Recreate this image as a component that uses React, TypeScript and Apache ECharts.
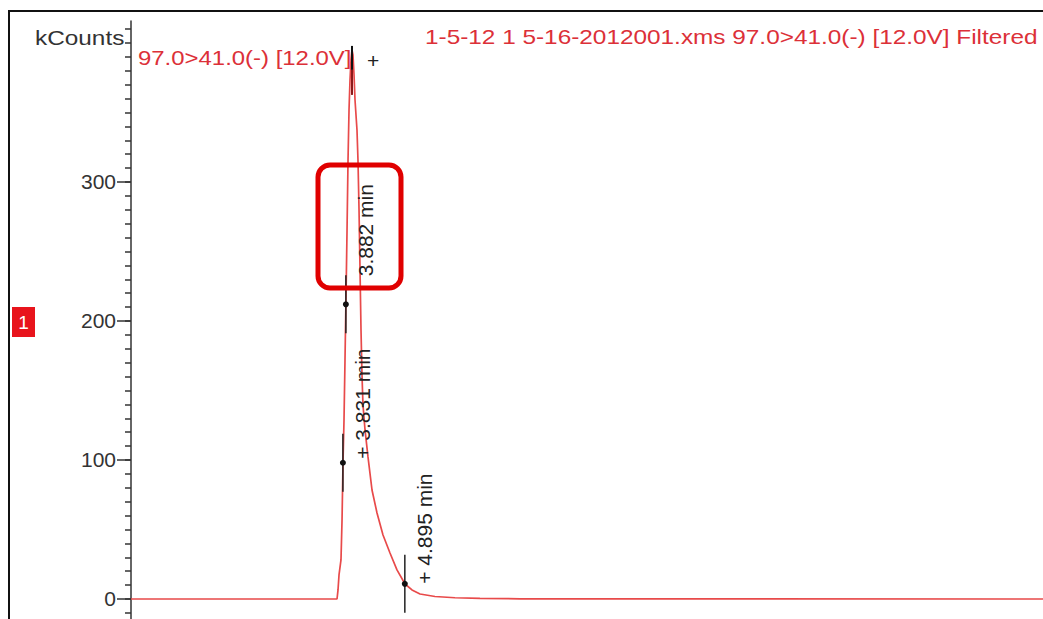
import React, { useEffect, useRef } from "react";
import * as echarts from "echarts";

// Chromatogram trace: retention time (min) vs intensity (kCounts)
const traceTimes = [
  0.19, 3.73, 3.747, 3.764, 3.798, 3.816, 3.833, 3.85, 3.867, 3.884, 3.902, 3.919, 3.936, 3.953, 3.97, 3.987,
  4.004, 4.022, 4.039, 4.073, 4.09, 4.108, 4.125, 4.142, 4.159, 4.176, 4.211, 4.262, 4.331, 4.417, 4.52, 4.64,
  4.76, 4.898, 5.018, 5.156, 5.413, 5.757, 6.186, 6.874, 8.248, 15.86,
];
const traceValues = [
  0, 0, 6.5, 17.3, 28.1, 56.8, 98.6, 128.8, 171.9, 216.5, 265.5, 315.8, 351.8, 373.4, 387.8, 395.0,
  391.4, 377.0, 359.0, 337.4, 315.8, 279.9, 236.7, 193.5, 161.2, 139.6, 121.6, 102.2, 78.4, 61.9, 46.0, 33.1,
  20.9, 10.8, 6.5, 3.6, 1.8, 0.9, 0.4, 0.15, 0.05, 0,
];

const markerTimes = [3.831, 3.882, 4.895];
const markerValues = [98, 212, 10.9];
const markerLabels = ["+ 3.831 min", "3.882 min", "+ 4.895 min"];

const apexTimes = [3.987];
const apexValues = [395];

const yMajorTicks = [0, 100, 200, 300];
const yMinorTicks = [-10, 0, 10, 20, 30, 40, 50, 60, 70, 80, 90, 100, 110, 120, 130, 140, 150, 160, 170, 180, 190, 200,
  210, 220, 230, 240, 250, 260, 270, 280, 290, 300, 310, 320, 330, 340, 350, 360, 370, 380, 390, 400, 410];

const yAxisName = "kCounts";
const traceName = "97.0>41.0(-) [12.0V]";
const titleText = "1-5-12 1 5-16-2012001.xms 97.0>41.0(-) [12.0V] Filtered";

// styling / layout
const FONT = '"Liberation Sans", Arial, sans-serif';
const RED_TEXT = "#dc3038";
const LINE_RED = "#e84a4a";
const labelShift = [-4, -28, 0];

export default function App() {
  const ref = useRef<HTMLDivElement>(null);
  useEffect(() => {
    document.body.style.margin = "0";
    const chart = echarts.init(ref.current!, null, { renderer: "svg" });
    const yMin = -14.39;
    const yMax = 415.8;
    chart.setOption({
      animation: false,
      backgroundColor: "#ffffff",
      grid: { left: 131, right: 0, top: 21, bottom: 0, containLabel: false },
      xAxis: { type: "value", min: 0.19, max: 15.86, show: false },
      yAxis: [
        {
          type: "value",
          min: yMin,
          max: yMax,
          position: "left",
          axisLine: { show: true, lineStyle: { color: "#333", width: 1.5 } },
          axisTick: { show: true, customValues: yMinorTicks, length: 6, lineStyle: { color: "#333", width: 1.5 } },
          axisLabel: { show: false },
          splitLine: { show: false },
        },
        {
          type: "value",
          min: yMin,
          max: yMax,
          position: "left",
          axisLine: { show: false },
          axisTick: { show: true, customValues: yMajorTicks, length: 14, lineStyle: { color: "#333", width: 1.5 } },
          axisLabel: { show: true, customValues: yMajorTicks, fontSize: 21, color: "#333", fontFamily: FONT, margin: 15 },
          splitLine: { show: false },
        },
      ],
      series: [
        {
          type: "line",
          data: traceTimes.map((t, i) => [t, traceValues[i]]),
          symbol: "none",
          lineStyle: { color: LINE_RED, width: 1.7 },
          z: 2,
        },
        {
          type: "custom",
          data: markerTimes.map((t, i) => [t, markerValues[i]]),
          z: 5,
          renderItem: (params: any, api: any) => {
            const p = api.coord([api.value(0), api.value(1)]);
            const i = params.dataIndex;
            return {
              type: "group",
              children: [
                { type: "line", shape: { x1: p[0], y1: p[1] - 29, x2: p[0], y2: p[1] + 29 }, style: { stroke: "#222", lineWidth: 1.5 } },
                { type: "circle", shape: { cx: p[0], cy: p[1], r: 3 }, style: { fill: "#111" } },
                {
                  type: "text",
                  x: p[0] + 20,
                  y: p[1] + labelShift[i],
                  rotation: Math.PI / 2,
                  style: { text: markerLabels[i], fill: "#222", font: `21px ${FONT}`, align: "left", verticalAlign: "middle" },
                },
              ],
            };
          },
        },
        {
          type: "custom",
          data: apexTimes.map((t, i) => [t, apexValues[i]]),
          z: 5,
          renderItem: (params: any, api: any) => {
            const p = api.coord([api.value(0), api.value(1)]);
            return {
              type: "group",
              children: [
                { type: "line", shape: { x1: p[0], y1: p[1] - 4, x2: p[0], y2: p[1] + 20 }, style: { stroke: "#111", lineWidth: 2 } },
                { type: "line", shape: { x1: p[0], y1: p[1] + 20, x2: p[0], y2: p[1] + 45 }, style: { stroke: "#8b1a1a", lineWidth: 2 } },
                {
                  type: "text",
                  x: p[0] + 15,
                  y: p[1] + 11,
                  style: { text: "+", fill: "#222", font: `21px ${FONT}`, align: "left", verticalAlign: "middle" },
                },
              ],
            };
          },
        },
      ],
      graphic: [
        { type: "polyline", shape: { points: [[9, 640], [9, 11], [1060, 11]] }, style: { stroke: "#111", lineWidth: 2, fill: null }, z: 10 },
        { type: "text", x: 35, y: 38, scaleX: 1.16, style: { text: yAxisName, fill: "#333", font: `21px ${FONT}`, align: "left", verticalAlign: "middle" } },
        { type: "text", x: 138, y: 58, scaleX: 1.14, style: { text: traceName, fill: RED_TEXT, font: `21px ${FONT}`, align: "left", verticalAlign: "middle" } },
        { type: "text", x: 425, y: 37, scaleX: 1.16, style: { text: titleText, fill: RED_TEXT, font: `21px ${FONT}`, align: "left", verticalAlign: "middle" } },
        { type: "rect", shape: { x: 12, y: 307, width: 23, height: 30 }, style: { fill: "#e8141c" } },
        { type: "text", x: 23.5, y: 322, style: { text: "1", fill: "#ffffff", font: `19px ${FONT}`, align: "center", verticalAlign: "middle" } },
        { type: "rect", shape: { x: 318, y: 165, width: 83, height: 123, r: 12 }, style: { stroke: "#e00000", lineWidth: 5, fill: null }, z: 20 },
      ],
    });
    return () => chart.dispose();
  }, []);
  return <div ref={ref} style={{ position: "absolute", left: 0, top: 0, width: 1043, height: 619 }} />;
}
